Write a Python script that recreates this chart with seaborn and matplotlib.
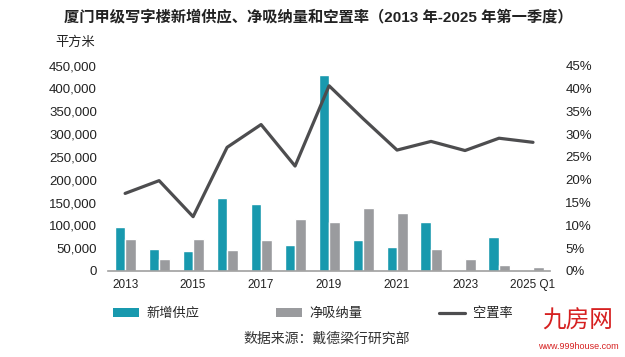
import matplotlib
matplotlib.use("Agg")
import matplotlib.pyplot as plt
import seaborn as sns
import pandas as pd
import numpy as np
from matplotlib.patches import Patch
from matplotlib.lines import Line2D
from matplotlib.ticker import FuncFormatter, MultipleLocator

categories = ["2013", "2014", "2015", "2016", "2017", "2018", "2019", "2020",
              "2021", "2022", "2023", "2024", "2025 Q1"]
tick_labels = ["2013", "", "2015", "", "2017", "", "2019", "", "2021", "", "2023", "", "2025 Q1"]
new_supply = [96000, 47500, 43000, 160000, 147000, 56000, 429000, 67000, 52000, 107000, 0, 74000, 0]
net_absorption = [71000, 27000, 71000, 45000, 67000, 113000, 107000, 137000, 126000, 49000, 25500, 12500, 9500]
vacancy = [17.0, 19.8, 11.9, 27.1, 32.1, 23.0, 40.6, 33.4, 26.5, 28.4, 26.4, 29.1, 28.2]

series_names = ["新增供应", "净吸纳量"]
line_name = "空置率"
title = "厦门甲级写字楼新增供应、净吸纳量和空置率（2013 年-2025 年第一季度）"
unit = "平方米"
source = "数据来源：戴德梁行研究部"

teal = "#1899AE"
gray = "#9A9B9E"
dark = "#4D4D4F"

sns.set_theme(style="white")
plt.rcParams['font.family'] = ['Liberation Sans', 'Noto Sans CJK SC', 'DejaVu Sans']

df = pd.DataFrame({
    "cat": categories * 2,
    "val": new_supply + net_absorption,
    "series": [series_names[0]] * len(categories) + [series_names[1]] * len(categories),
})
dfl = pd.DataFrame({"cat": categories, "vac": vacancy})

fig = plt.figure(figsize=(6.25, 3.57), dpi=100)
ax = fig.add_axes([0.173, 0.241, 0.707, 0.575])

sns.barplot(data=df, x="cat", y="val", hue="series", order=categories,
            hue_order=series_names, palette=[teal, gray], width=0.62,
            saturation=1, ax=ax, legend=False)
ax.set_ylim(0, 450000)
ax.yaxis.set_major_locator(MultipleLocator(50000))
ax.yaxis.set_major_formatter(FuncFormatter(lambda v, p: f"{int(v):,}"))
ax.set_xlabel("")
ax.set_ylabel("")
ax.set_xticks(range(len(categories)))
ax.set_xticklabels(tick_labels)
ax.tick_params(axis="x", length=0, pad=6, labelsize=8.5, colors="#222222")
ax.tick_params(axis="y", length=0, pad=8, labelsize=9.5, colors="#222222")
for s in ["top", "left", "right"]:
    ax.spines[s].set_visible(False)
ax.spines["bottom"].set_color("#A0A0A0")
ax.spines["bottom"].set_linewidth(1.2)
ax.set_xlim(-0.5, len(categories) - 0.5)

ax2 = ax.twinx()
sns.lineplot(data=dfl, x=np.arange(len(categories)), y="vac", color=dark,
             linewidth=2.3, ax=ax2, legend=False)
ax2.set_ylim(0, 45)
ax2.yaxis.set_major_locator(MultipleLocator(5))
ax2.yaxis.set_major_formatter(FuncFormatter(lambda v, p: f"{int(v)}%"))
ax2.set_ylabel("")
ax2.tick_params(axis="y", length=0, pad=11, labelsize=9.5, colors="#222222")
for s in ["top", "left", "right", "bottom"]:
    ax2.spines[s].set_visible(False)
ax2.set_xlim(-0.5, len(categories) - 0.5)

fig.text(0.51, 0.953, title, ha="center", va="center", fontsize=11,
         fontweight="bold", color="#222222")
fig.text(0.12, 0.88, unit, ha="center", va="center", fontsize=9.5, color="#222222")

handles = [Patch(facecolor=teal, edgecolor="none"),
           Patch(facecolor=gray, edgecolor="none"),
           Line2D([0], [0], color=dark, linewidth=2.3)]
fig.legend(handles, series_names + [line_name], loc="center", ncol=3,
           bbox_to_anchor=(0.50, 0.12), frameon=False, fontsize=9.5,
           handlelength=2.0, handleheight=0.7, columnspacing=5.8, handletextpad=0.55)

fig.text(0.523, 0.05, source, ha="center", va="center", fontsize=10,
         color="#333333", style="italic")

fig.text(0.925, 0.1, "九房网", ha="center", va="center", fontsize=17,
         color="#D62020")
fig.text(0.925, 0.03, "www.999house.com", ha="center", va="center", fontsize=6.5,
         color="#D62020")

fig.savefig("out.png", dpi=100)
